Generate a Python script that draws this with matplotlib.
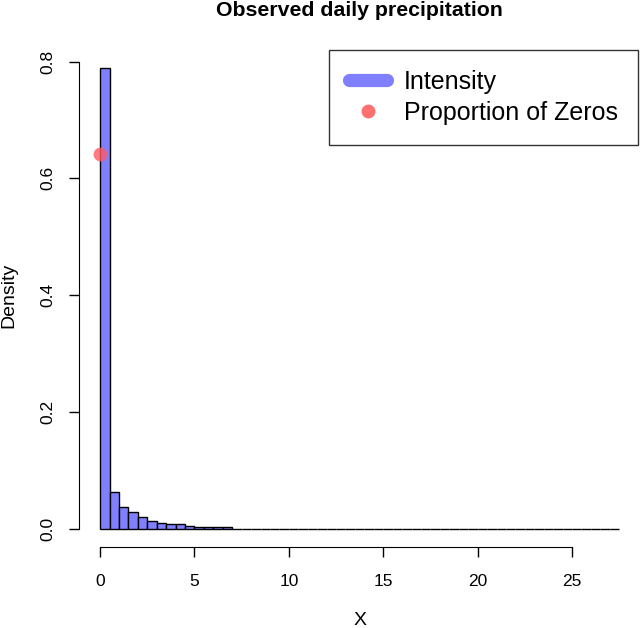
import numpy as np
import matplotlib
matplotlib.use("Agg")
import matplotlib.pyplot as plt
from matplotlib.lines import Line2D

plt.rcParams['font.family'] = ['Liberation Sans', 'DejaVu Sans']

# histogram of intensity, bins of width 0.5 from 0 to 27.5
bin_edges = np.arange(0, 28.0, 0.5)
density = [0.79, 0.062, 0.037, 0.028, 0.020, 0.0126, 0.0103, 0.008, 0.008, 0.005,
           0.003, 0.003, 0.0025, 0.002]
density = density + [0.0] * (len(bin_edges) - 1 - len(density))

# proportion of zero-precipitation days
zero_x = [0]
zero_prop = [0.642]

x_ticks = [0, 5, 10, 15, 20, 25]
y_ticks = [0.0, 0.2, 0.4, 0.6, 0.8]

fig = plt.figure(figsize=(6.4, 6.28), dpi=100)
ax = fig.add_axes([79.3 / 640, 1 - 547.3 / 628, 1 - 79.3 / 640, (547.3 - 43) / 628])

ax.bar(bin_edges[:-1], density, width=0.5, align='edge', color='#8080ff',
       edgecolor='black', linewidth=1.0)
ax.plot(zero_x, zero_prop, 'o', color='#ff5a64', alpha=0.8, markersize=10,
        markeredgewidth=0, clip_on=False)

ax.set_xlim(-1.1, 28.6)
ax.set_ylim(-0.032, 0.832)

for s in ['top', 'right']:
    ax.spines[s].set_visible(False)
ax.spines['left'].set_bounds(0, 0.8)
ax.spines['bottom'].set_bounds(0, 25)

ax.set_xticks(x_ticks)
ax.set_xticklabels([str(t) for t in x_ticks])
ax.set_yticks(y_ticks)
ax.set_yticklabels(["%.1f" % t for t in y_ticks], rotation=90, va='center')
ax.tick_params(direction='out', length=7, width=1, labelsize=12.5, pad=10)
ax.tick_params(axis='x', pad=12)

ax.set_xlabel("X", fontsize=14, labelpad=17)
ax.set_ylabel("Density", fontsize=14, labelpad=17)
ax.set_title("Observed daily precipitation", fontsize=15.3, fontweight='bold', y=1.037)

handles = [Line2D([], [], color='#8080ff', lw=9.5, solid_capstyle='round'),
           Line2D([], [], marker='o', ls='', color='#ff7070', markersize=10,
                  markeredgewidth=0)]
leg = ax.legend(handles, ["Intensity", "Proportion of Zeros"], loc='upper right',
                bbox_to_anchor=(638 / 640, 1 - 50 / 628), bbox_transform=fig.transFigure,
                fontsize=18, frameon=True, fancybox=False, handlelength=1.5,
                borderpad=0.8, labelspacing=0.27, handletextpad=0.7, borderaxespad=0)
leg.get_frame().set_edgecolor('black')
leg.get_frame().set_linewidth(1.0)

fig.savefig("out.png", dpi=100)
